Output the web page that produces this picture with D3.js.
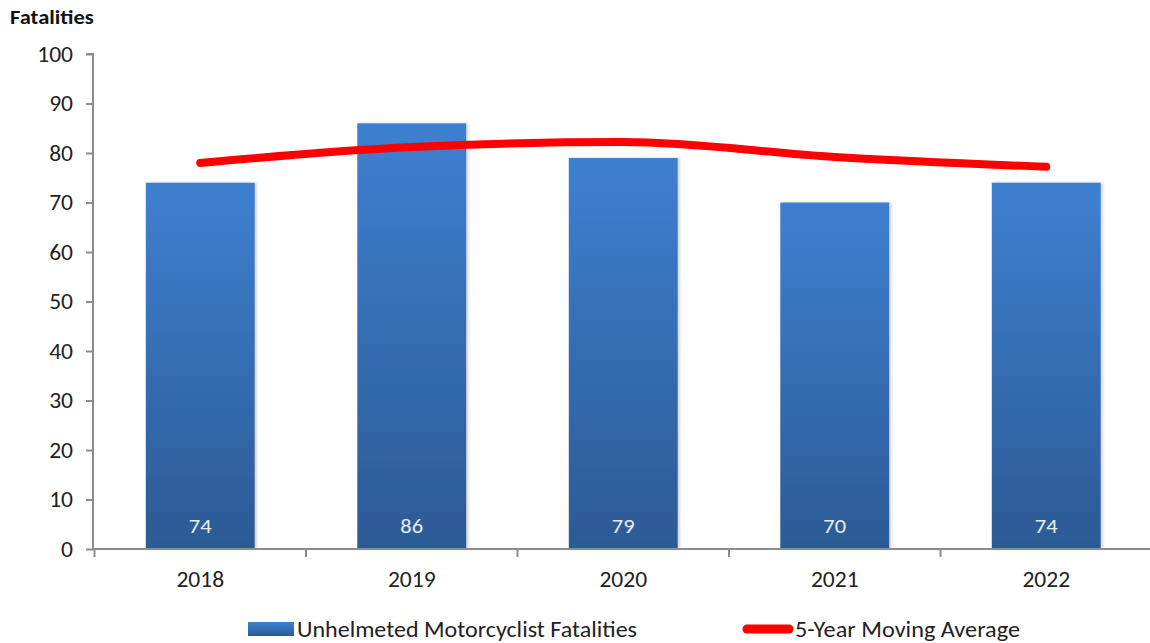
<!DOCTYPE html>
<html><head><meta charset="utf-8">
<script src="https://cdn.jsdelivr.net/npm/d3@7"></script>
<style>body{margin:0;background:#fff}svg{display:block}</style>
</head><body>
<script>
const categories = ["2018","2019","2020","2021","2022"];
const fatalities = [74,86,79,70,74];
const movingAvg = [78,81.2,82.2,79.2,77.2];
const yTicks = [0,10,20,30,40,50,60,70,80,90,100];
const seriesNames = ["Unhelmeted Motorcyclist Fatalities","5-Year Moving Average"];

const W=1150,H=643;
const font="Carlito, 'Liberation Sans Narrow', 'Open Sans', sans-serif";
const svg=d3.select("body").append("svg").attr("width",W).attr("height",H);
const defs=svg.append("defs");
const g1=defs.append("linearGradient").attr("id","bg").attr("x1",0).attr("y1",0).attr("x2",0).attr("y2",1);
g1.append("stop").attr("offset","0%").attr("stop-color","#3e80d0");
g1.append("stop").attr("offset","100%").attr("stop-color","#2c5a95");
const g2=defs.append("linearGradient").attr("id","lg").attr("x1",0).attr("y1",0).attr("x2",0).attr("y2",1);
g2.append("stop").attr("offset","0%").attr("stop-color","#3e80d0");
g2.append("stop").attr("offset","100%").attr("stop-color","#2c5a95");
const f=defs.append("filter").attr("id","sh").attr("x","-10%").attr("y","-10%").attr("width","130%").attr("height","130%");
f.append("feDropShadow").attr("dx",2).attr("dy",0).attr("stdDeviation",1.5).attr("flood-color","#000").attr("flood-opacity",0.18);

const x=d3.scaleBand().domain(categories).range([94.5,1152]).paddingInner(0.485).paddingOuter(0.2425);
const xb=d3.scaleBand().domain(categories).range([94.5,1152]);
const y=d3.scaleLinear().domain([0,100]).range([549,54]);

// bars
svg.append("g").selectAll("rect").data(categories).join("rect")
 .attr("x",d=>x(d)).attr("width",x.bandwidth())
 .attr("y",(d,i)=>y(fatalities[i])).attr("height",(d,i)=>y(0)-y(fatalities[i]))
 .attr("fill","url(#bg)").attr("filter","url(#sh)");

// labels
svg.append("g").selectAll("text").data(categories).join("text")
 .attr("class","st")
 .attr("x",d=>x(d)+x.bandwidth()/2).attr("y",533)
 .attr("text-anchor","middle").attr("fill","#e6edf7")
 .style("font-family",font).style("font-size","21px")
 .text((d,i)=>fatalities[i]);

// y axis
const ya=svg.append("g").attr("transform","translate(93,0)")
 .call(d3.axisLeft(y).tickValues(yTicks).tickSize(7).tickPadding(13));
ya.select(".domain").attr("stroke","#8c8c8c").attr("stroke-width",2).attr("d","M-7,54H0V549");
ya.selectAll(".tick line").attr("stroke","#8c8c8c").attr("stroke-width",2);
ya.selectAll(".tick text").attr("class","st").attr("fill","#222").style("font-family",font).style("font-size","22px");

// x axis
const xa=svg.append("g").attr("transform","translate(0,549)")
 .call(d3.axisBottom(xb).tickSize(0).tickPadding(22));
xa.select(".domain").attr("stroke","#8c8c8c").attr("stroke-width",2).attr("d","M93,0H1152");
xa.selectAll(".tick text").attr("class","st").attr("fill","#222").style("font-family",font).style("font-size","22px");
// boundary ticks
const bounds=categories.map(c=>xb(c)).concat([xb(categories[4])+xb.bandwidth()]);
svg.append("g").selectAll("line").data(bounds).join("line")
 .attr("x1",d=>d).attr("x2",d=>d).attr("y1",549).attr("y2",557)
 .attr("stroke","#8c8c8c").attr("stroke-width",2);

// line
const line=d3.line().x((d,i)=>xb(categories[i])+xb.bandwidth()/2).y(d=>y(d)).curve(d3.curveMonotoneX);
svg.append("path").datum(movingAvg).attr("d",line).attr("fill","none")
 .attr("stroke","#ff0000").attr("stroke-width",8).attr("stroke-linecap","round");

// title
svg.append("text").attr("class","st").attr("x",10).attr("y",24).text("Fatalities")
 .attr("fill","#111").style("font-family",font).style("font-size","21px").style("font-weight","bold");

// legend
svg.append("rect").attr("x",248).attr("y",622).attr("width",46).attr("height",14).attr("fill","url(#lg)");
svg.append("text").attr("x",297).attr("y",637).text(seriesNames[0])
 .attr("textLength",340).attr("lengthAdjust","spacingAndGlyphs")
 .attr("fill","#222").style("font-family",font).style("font-size","22px");
svg.append("line").attr("x1",747).attr("x2",789).attr("y1",629).attr("y2",629)
 .attr("stroke","#ff0000").attr("stroke-width",9).attr("stroke-linecap","round");
svg.append("text").attr("x",795).attr("y",637).text(seriesNames[1])
 .attr("textLength",225).attr("lengthAdjust","spacingAndGlyphs")
 .attr("fill","#222").style("font-family",font).style("font-size","22px");

// slight horizontal stretch to match reference glyph widths
svg.selectAll("text.st").each(function(){
  const w=this.getComputedTextLength();
  d3.select(this).attr("textLength",w*1.07).attr("lengthAdjust","spacingAndGlyphs");
});
</script>
</body></html>
